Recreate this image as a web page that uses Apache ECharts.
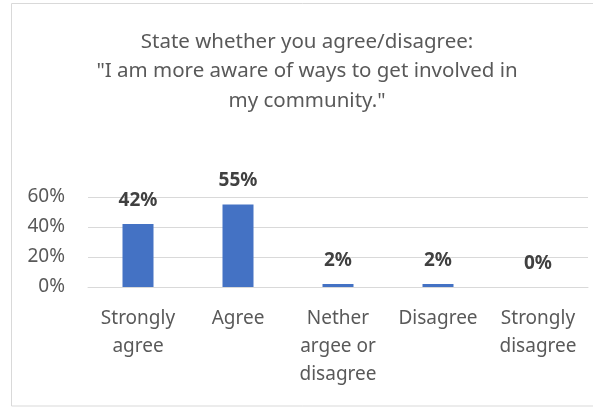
<!DOCTYPE html>
<html>
<head>
<meta charset="utf-8">
<script src="https://cdn.jsdelivr.net/npm/echarts@6/dist/echarts.min.js"></script>
<style>
html, body { margin: 0; padding: 0; background: #fff; }
#chart { width: 593px; height: 408px; }
</style>
</head>
<body>
<div id="chart"></div>
<script>
var categories = ['Strongly\nagree', 'Agree', 'Nether\nargee or\ndisagree', 'Disagree', 'Strongly\ndisagree'];
var values = [42, 55, 2, 2, 0];
var yTicks = [0, 20, 40, 60];

var myChart = echarts.init(document.getElementById('chart'));
var font = "'Noto Sans', sans-serif";

var option = {
	animation: false,
	title: {
		text: 'State whether you agree/disagree:\n"I am more aware of ways to get involved in\nmy community."',
		left: 302,
		top: 22,
		textAlign: 'center',
		textStyle: {
			fontFamily: font,
			fontSize: 20.5,
			fontWeight: 'normal',
			color: '#595959',
			lineHeight: 29.5
		}
	},
	graphic: [{
		type: 'rect',
		shape: { x: 11.5, y: 3.5, width: 600, height: 402.5 },
		style: { fill: 'none', stroke: '#d9d9d9', lineWidth: 1 },
		silent: true
	}],
	grid: {
		left: 88,
		right: 5,
		top: 197,
		bottom: 121
	},
	xAxis: {
		type: 'category',
		data: categories,
		axisLine: { show: true, lineStyle: { color: '#d9d9d9' } },
		axisTick: { show: false },
		axisLabel: {
			interval: 0,
			margin: 18,
			fontFamily: font,
			fontSize: 19,
			color: '#595959',
			lineHeight: 28,
			verticalAlign: 'top'
		}
	},
	yAxis: {
		type: 'value',
		min: yTicks[0],
		max: yTicks[yTicks.length - 1],
		interval: 20,
		axisLine: { show: false },
		axisTick: { show: false },
		splitLine: { lineStyle: { color: '#d9d9d9' } },
		axisLabel: {
			formatter: '{value}%',
			margin: 23,
			fontFamily: font,
			fontSize: 19,
			color: '#595959'
		}
	},
	series: [{
		type: 'bar',
		data: values,
		barWidth: 31,
		itemStyle: { color: '#4472c4' },
		label: {
			show: true,
			position: 'top',
			distance: 14,
			formatter: '{c}%',
			fontFamily: font,
			fontSize: 19,
			fontWeight: 'bold',
			color: '#404040'
		}
	}]
};

myChart.setOption(option);

window.onresize = function() {
	myChart.resize();
};
</script>
</body>
</html>
